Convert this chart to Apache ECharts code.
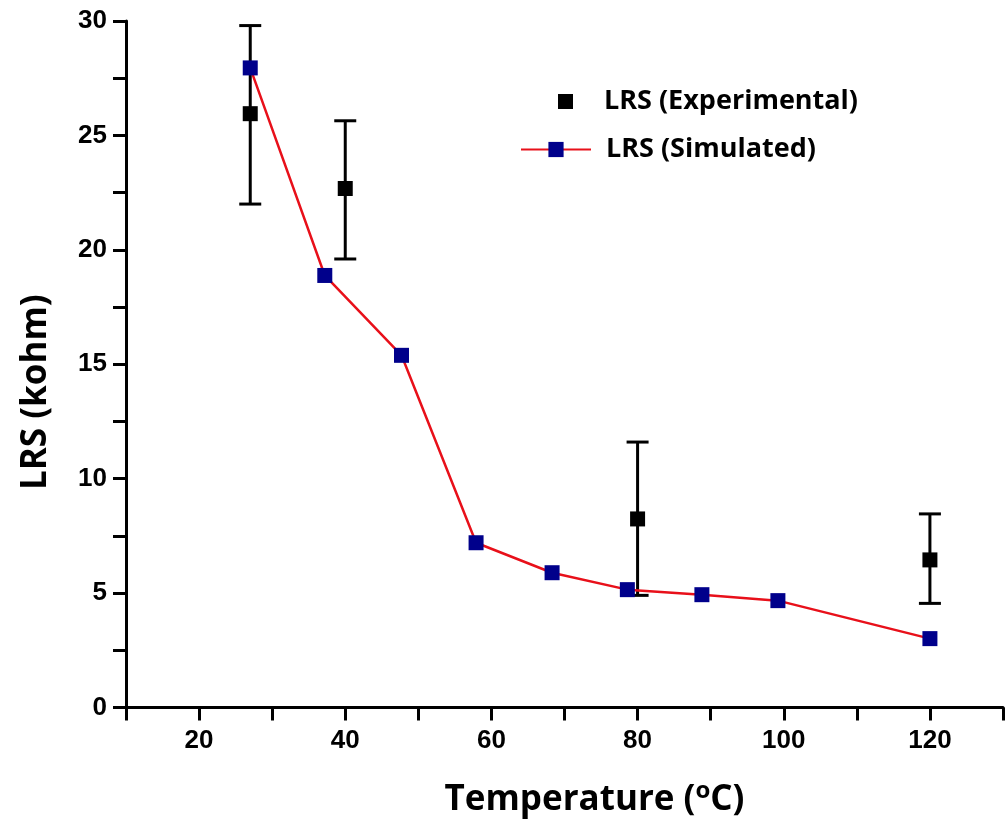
<!DOCTYPE html>
<html><head><meta charset="utf-8">
<script src="https://cdn.jsdelivr.net/npm/echarts@6/dist/echarts.min.js"></script>
<style>html,body{margin:0;padding:0;background:#fff}#c{width:1006px;height:823px}</style>
</head><body><div id="c"></div>
<script>
const expTemp = [27, 40, 80, 120];
const expVal = [25.95, 22.68, 8.24, 6.45];
const expLow = [22.0, 19.6, 4.9, 4.55];
const expHigh = [29.8, 25.64, 11.6, 8.46];
const simTemp = [27, 37.2, 47.7, 57.9, 68.3, 78.6, 88.8, 99.2, 120];
const simVal = [27.95, 18.88, 15.39, 7.2, 5.89, 5.15, 4.93, 4.67, 3.01];
const xTicks = [20, 40, 60, 80, 100, 120];
const yTicks = [0, 5, 10, 15, 20, 25, 30];

const chart = echarts.init(document.getElementById('c'));
const labelFont = {fontFamily: 'Liberation Sans', fontWeight: 'bold', fontSize: 26, color: '#000'};
const legendText = {fontFamily: 'Open Sans', fontWeight: 'bold', fontSize: 27, color: '#000'};
chart.setOption({
  animation: false,
  grid: {left: 126, top: 21, width: 884, height: 688, containLabel: false},
  legend: [
    {
      orient: 'vertical', left: 558, top: 88, padding: 0, itemWidth: 15, itemHeight: 15,
      textStyle: Object.assign({padding: [0, 0, 0, 26]}, legendText),
      data: [{name: 'LRS (Experimental)', icon: 'rect'}]
    },
    {
      orient: 'vertical', left: 520, top: 136, padding: 0, itemWidth: 70, itemHeight: 19,
      textStyle: Object.assign({padding: [0, 0, 0, 10]}, legendText),
      data: [{name: 'LRS (Simulated)'}]
    }
  ],
  xAxis: {
    type: 'value', min: 10, max: 130, interval: 10,
    axisLine: {lineStyle: {color: '#000', width: 3}},
    axisTick: {inside: false, length: 13, lineStyle: {width: 3}},
    splitLine: {show: false},
    axisLabel: Object.assign({margin: 20, formatter: v => xTicks.includes(v) ? String(v) : ''}, labelFont),
    name: 'Temperature ({s|o}C)', nameLocation: 'middle', nameGap: 72,
    nameTextStyle: {fontFamily: 'Open Sans', fontWeight: 'bold', fontSize: 35, color: '#000', padding: [0, 0, 0, 60],
      rich: {s: {fontFamily: 'Open Sans', fontSize: 24, fontWeight: 'bold', verticalAlign: 'top', padding: [0, 0, 18, 0]}}}
  },
  yAxis: {
    type: 'value', min: 0, max: 30, interval: 2.5,
    axisLine: {show: true, lineStyle: {color: '#000', width: 3}},
    axisTick: {show: true, length: 13, lineStyle: {width: 3}},
    splitLine: {show: false},
    axisLabel: Object.assign({margin: 19, formatter: v => yTicks.includes(v) ? String(v) : ''}, labelFont),
    name: 'LRS (kohm)', nameLocation: 'middle', nameGap: 72,
    nameTextStyle: {fontFamily: 'Open Sans', fontWeight: 'bold', fontSize: 35, color: '#000', padding: [0, 56, 0, 0]}
  },
  series: [
    {
      name: 'errbars', type: 'custom', z: 2,
      data: expTemp.map((t, i) => [t, expLow[i], expHigh[i]]),
      encode: {x: 0, y: [1, 2]},
      renderItem: function (params, api) {
        const x = api.value(0);
        const lo = api.coord([x, api.value(1)]);
        const hi = api.coord([x, api.value(2)]);
        const hw = 11;
        const st = {stroke: '#000', lineWidth: 3};
        return {type: 'group', children: [
          {type: 'line', shape: {x1: lo[0], y1: lo[1], x2: hi[0], y2: hi[1]}, style: st},
          {type: 'line', shape: {x1: lo[0]-hw, y1: lo[1], x2: lo[0]+hw, y2: lo[1]}, style: st},
          {type: 'line', shape: {x1: hi[0]-hw, y1: hi[1], x2: hi[0]+hw, y2: hi[1]}, style: st}
        ]};
      }
    },
    {
      name: 'LRS (Experimental)', type: 'scatter', symbol: 'rect', symbolSize: 15, z: 3,
      itemStyle: {color: '#000', opacity: 1},
      data: expTemp.map((t, i) => [t, expVal[i]])
    },
    {
      name: 'LRS (Simulated)', type: 'line', symbol: 'rect', symbolSize: 15, z: 4,
      showAllSymbol: true,
      lineStyle: {color: '#e8101a', width: 2.5},
      itemStyle: {color: '#00008b', borderWidth: 0},
      data: simTemp.map((t, i) => [t, simVal[i]])
    }
  ]
});
</script></body></html>
